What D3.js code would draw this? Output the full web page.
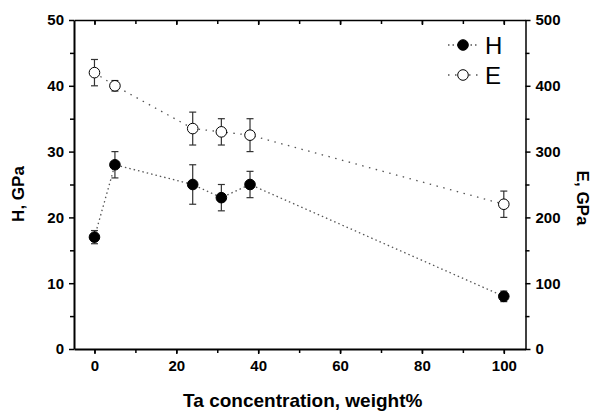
<!DOCTYPE html>
<html><head><meta charset="utf-8">
<script src="https://cdn.jsdelivr.net/npm/d3@7"></script>
<style>body{margin:0;background:#fff}svg{display:block;font-family:"Liberation Sans",Arial,sans-serif}</style>
</head><body>
<svg id="c" width="592" height="411"></svg>
<script>
const taConc = [0, 5, 24, 31, 38, 100];
const hValues = [17, 28, 25, 23, 25, 8];
const hErrors = [1, 2, 3, 2, 2, 0.8];
const eValues = [420, 400, 335, 330, 325, 220];
const eErrors = [20, 8, 25, 20, 25, 20];
const xTicks = [0, 20, 40, 60, 80, 100];
const hTicks = [0, 10, 20, 30, 40, 50];
const eTicks = [0, 100, 200, 300, 400, 500];

const FONT = '"Liberation Sans",Arial,sans-serif';
const svg = d3.select("#c");
const L = 74, R = 525.5, T = 20, B = 349;
const x = d3.scaleLinear().domain([-5, 105.3]).range([L, R]);
const yH = d3.scaleLinear().domain([0, 50]).range([B, T]);
const yE = d3.scaleLinear().domain([0, 500]).range([B, T]);

function styleAxis(g, w) {
  g.attr("font-family", FONT);
  g.select(".domain").attr("stroke", "#000").attr("stroke-width", w);
  g.selectAll(".tick line").attr("stroke", "#000").attr("stroke-width", 1.5);
  g.selectAll(".tick text").attr("font-size", 15).attr("font-weight", "bold").attr("fill", "#000");
}
const xMinor = d3.range(0, 101, 10);
function minor(g) { g.select(".domain").remove(); g.selectAll("line").attr("stroke", "#000").attr("stroke-width", 1.5); }
svg.append("g").attr("transform", `translate(0,${B})`)
  .call(d3.axisBottom(x).tickValues(xMinor).tickSize(4).tickFormat("").tickSizeOuter(0)).call(minor);
svg.append("g").attr("transform", `translate(0,${T})`)
  .call(d3.axisBottom(x).tickValues(xMinor).tickSize(4).tickFormat("").tickSizeOuter(0)).call(minor);
svg.append("g").attr("transform", `translate(${L},0)`)
  .call(d3.axisLeft(yH).tickValues(d3.range(5, 50, 10)).tickSize(4).tickFormat("").tickSizeOuter(0)).call(minor);
svg.append("g").attr("transform", `translate(${R},0)`)
  .call(d3.axisRight(yE).tickValues(d3.range(50, 500, 100)).tickSize(4).tickFormat("").tickSizeOuter(0)).call(minor);

svg.append("g").attr("transform", `translate(0,${B})`)
  .call(d3.axisBottom(x).tickValues(xTicks).tickSize(5).tickSizeOuter(0).tickPadding(6))
  .call(g => styleAxis(g, 2));
svg.append("g").attr("transform", `translate(0,${T})`)
  .call(d3.axisBottom(x).tickValues(xTicks).tickSize(5).tickSizeOuter(0).tickFormat(""))
  .call(g => styleAxis(g, 1.5));
svg.append("g").attr("transform", `translate(${L},0)`)
  .call(d3.axisLeft(yH).tickValues(hTicks).tickSize(5).tickSizeOuter(0).tickPadding(5))
  .call(g => styleAxis(g, 2));
svg.append("g").attr("transform", `translate(${R},0)`)
  .call(d3.axisRight(yE).tickValues(eTicks).tickSize(5).tickSizeOuter(0).tickPadding(5))
  .call(g => styleAxis(g, 1.5));

svg.append("text").attr("x", (L + R) / 2 + 3).attr("y", 402).attr("text-anchor", "middle")
  .attr("dominant-baseline", "middle").attr("font-size", 19).attr("font-weight", "bold").text("Ta concentration, weight%");
svg.append("text").attr("transform", "translate(20,194) rotate(-90)").attr("text-anchor", "middle")
  .attr("dominant-baseline", "middle").attr("font-size", 17).attr("font-weight", "bold").text("H, GPa");
svg.append("text").attr("transform", "translate(581,198) rotate(90)").attr("text-anchor", "middle")
  .attr("dominant-baseline", "middle").attr("font-size", 17).attr("font-weight", "bold").text("E, GPa");

const lineCol = "#555";
const hDash = "1.5,3", eDash = "1.5,5.5";
function series(vals, errs, y, fill, dash) {
  const pts = taConc.map((c, i) => ({ c, v: vals[i], e: errs[i] }));
  svg.append("path").datum(pts).attr("fill", "none").attr("stroke", lineCol).attr("stroke-width", 1.3)
    .attr("stroke-dasharray", dash)
    .attr("d", d3.line().x(d => x(d.c)).y(d => y(d.v)));
  const eb = svg.append("g").attr("stroke", "#333").attr("stroke-width", 1.2);
  pts.forEach(d => {
    eb.append("line").attr("x1", x(d.c)).attr("x2", x(d.c)).attr("y1", y(d.v - d.e)).attr("y2", y(d.v + d.e));
    [d.v - d.e, d.v + d.e].forEach(v => eb.append("line").attr("x1", x(d.c) - 3.5).attr("x2", x(d.c) + 3.5).attr("y1", y(v)).attr("y2", y(v)));
  });
  svg.append("g").selectAll("circle").data(pts).join("circle")
    .attr("cx", d => x(d.c)).attr("cy", d => y(d.v)).attr("r", 5.3)
    .attr("fill", fill).attr("stroke", "#000").attr("stroke-width", 1);
}
series(eValues, eErrors, yE, "#fff", eDash);
series(hValues, hErrors, yH, "#000", hDash);

const leg = [{ n: "H", fill: "#000", dash: hDash, y: 45 }, { n: "E", fill: "#fff", dash: eDash, y: 75 }];
leg.forEach(l => {
  svg.append("line").attr("x1", 448).attr("x2", 478).attr("y1", l.y).attr("y2", l.y)
    .attr("stroke", lineCol).attr("stroke-width", 1.3).attr("stroke-dasharray", l.dash);
  svg.append("circle").attr("cx", 463).attr("cy", l.y).attr("r", 5.3).attr("fill", l.fill).attr("stroke", "#000");
  svg.append("text").attr("x", 485).attr("y", l.y).attr("dominant-baseline", "central")
    .attr("font-size", 24).text(l.n);
});
</script>
</body></html>
